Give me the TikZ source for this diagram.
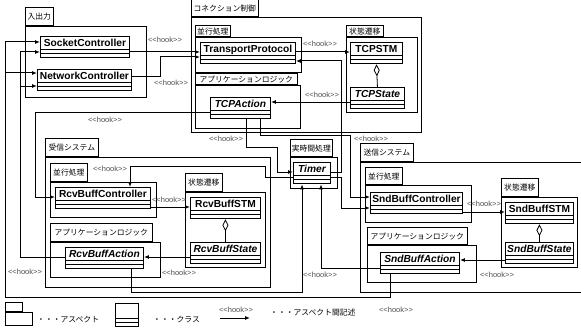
\documentclass[tikz,border=0pt]{standalone}
\usepackage{fontspec}
\setmainfont{Liberation Sans}
\newfontfamily\jpfont{Noto Sans CJK JP}
\newfontfamily\hookfont{Liberation Sans}[Ligatures=TeXOff]
\usetikzlibrary{arrows.meta}

\newcommand{\clsfont}{\fontsize{10.2}{11}\selectfont\bfseries}
\newcommand{\jpsize}{\jpfont\fontsize{7.8}{8}\selectfont}

% aspect: name, corner, width, height, tab width, tab height, label
\newcommand{\aspect}[7]{%
  \node[aspbody, minimum width=#3, minimum height=#4] (#1) at #2 {};
  \node[asptab, minimum width=#5, minimum height=#6] (#1tab) at (#1.north west) {#7};
}

\begin{document}
\begin{tikzpicture}[x=1pt, y=-1pt,
    cls/.style={draw, line width=0.9pt, anchor=north west, inner xsep=0pt, inner ysep=2.5pt,
      text height=7.4pt, text depth=9pt, font=\clsfont,
      path picture={
        \draw[line width=0.8pt] ([yshift=8pt]path picture bounding box.south west) -- ([yshift=8pt]path picture bounding box.south east);
        \draw[line width=0.8pt] ([yshift=4pt]path picture bounding box.south west) -- ([yshift=4pt]path picture bounding box.south east);
      }},
    abscls/.style={cls, font=\clsfont\itshape},
    aspbody/.style={draw, line width=0.6pt, anchor=north west, inner sep=0pt},
    asptab/.style={draw, line width=0.6pt, anchor=south west, inner xsep=1pt, inner ysep=0pt, font=\jpsize},
    hook/.style={line width=1pt, -{Latex[length=5pt,width=4pt]}},
    hooklbl/.style={font=\hookfont\fontsize{7.5}{8}\selectfont, text=black!70, inner sep=0pt},
    agg/.style={line width=0.8pt, {Diamond[open,length=12pt,width=6pt]}-},
  ]
  \useasboundingbox (0,0) rectangle (581,329);

  % aspects
  \aspect{io}{(25,26)}{121}{71}{28}{18}{入出力}
  \aspect{conn}{(191,17)}{230}{115}{67}{17}{コネクション制御}
  \aspect{tcppar}{(195,37)}{106}{35}{35}{11}{並行処理}
  \aspect{tcpsm}{(346,37)}{71}{75}{37}{11}{状態遷移}
  \aspect{tcpapp}{(195,85)}{105}{43}{102}{11}{アプリケーションロジック}
  \aspect{rt}{(290,157)}{47}{31}{42}{17}{実時間処理}
  \aspect{rcv}{(45,157)}{225}{130}{53}{18}{受信システム}
  \aspect{rcvpar}{(50,182)}{106}{35}{37}{18}{並行処理}
  \aspect{rcvsm}{(185,192)}{80}{75}{37}{18}{状態遷移}
  \aspect{rcvapp}{(50,242)}{110}{35}{102}{18}{アプリケーションロジック}
  \aspect{snd}{(360,162)}{225}{130}{53}{18}{送信システム}
  \aspect{sndpar}{(365,185)}{106}{37}{37}{17}{並行処理}
  \aspect{sndsm}{(501,197)}{76}{70}{37}{18}{状態遷移}
  \aspect{sndapp}{(367,245)}{109}{37}{100}{17}{アプリケーションロジック}

  % classes
  \node[cls, minimum width=89] (sock) at (40,36) {SocketController};
  \node[cls, minimum width=94] (net) at (37,69) {NetworkController};
  \node[cls, minimum width=95] (tp) at (200,42) {TransportProtocol};
  \node[cls, minimum width=52] (tcpstm) at (350,42) {TCPSTM};
  \node[abscls, minimum width=54] (tcpst) at (350,87) {TCPState};
  \node[abscls, minimum width=60] (tcpact) at (210,97) {TCPAction};
  \node[abscls, minimum width=37] (timer) at (293,162) {Timer};
  \node[cls, minimum width=95] (rcvctl) at (55,187) {RcvBuffController};
  \node[cls, minimum width=70] (rcvstm) at (190,197) {RcvBuffSTM};
  \node[abscls, minimum width=70] (rcvst) at (190,242) {RcvBuffState};
  \node[abscls, minimum width=78] (rcvact) at (65,247) {RcvBuffAction};
  \node[cls, minimum width=92] (sndctl) at (370,192) {SndBuffController};
  \node[cls, minimum width=68] (sndstm) at (505,202) {SndBuffSTM};
  \node[abscls, minimum width=68] (sndst) at (505,242) {SndBuffState};
  \node[abscls, minimum width=79] (sndact) at (380,252) {SndBuffAction};

  % bus points
  \coordinate (rcvbus) at (20,86);
  \coordinate (sndbus) at (5,73);

  % hooks
  \draw[hook] (sock.east |- 0,52) -- (tp.west |- 0,52);
  \draw[hook] (net.east |- 0,77) -- (160,77) -- (160,57) -- (tp.west |- 0,57);
  \draw[hook] (tp.east |- 0,52) -- (tcpstm.west |- 0,52);
  \draw[hook] (timer.east |- 0,172) -- (341,172) -- (341,61) -- (tp.east |- 0,61);
  \draw[hook] (tcpst.west |- 0,102) -- (tcpact.east |- 0,102);
  \draw[hook] (tcpact.west |- 0,112) -- (35,112) -- (35,197) -- (rcvctl.west |- 0,197);
  \draw[hook] (tcpact.south -| 246,0) -- (246,147) -- (277,147) -- (277,172) -- (timer.west |- 0,172);
  \draw[hook] (tcpact.south -| 260,0) -- (260,135) -- (350,135) -- (350,197) -- (sndctl.west |- 0,197);
  \draw[hook] (timer.east |- 0,177) -- (341,177) -- (341,208) -- (sndctl.west |- 0,208);
  \draw[hook] (timer.west |- 0,177) -- (265,177) -- (265,166) -- (130,166) -- (rcvctl.north -| 130,0);
  \draw[hook] (rcvctl.east |- 0,207) -- (rcvstm.west |- 0,207);
  \draw[hook] (rcvst.west |- 0,257) -- (rcvact.east |- 0,257);
  \draw[hook] (rcvact.west |- 0,257) -- (20,257) -- (20,52) -- (sock.west |- 0,52);
  \draw[hook] (rcvbus) -- (net.west |- rcvbus);
  \draw[hook] (rcvact.south -| 131,0) -- (131,292) -- (302,292) -- (timer.south -| 302,0);
  \draw[hook] (sndctl.east |- 0,212) -- (sndstm.west |- 0,212);
  \draw[hook] (sndst.west |- 0,260) -- (sndact.east |- 0,260);
  \draw[hook] (sndact.west |- 0,268) -- (321,268) -- (timer.south -| 321,0);
  \draw[hook] (sndact.south -| 390,0) -- (390,297) -- (5,297) -- (5,42) -- (sock.west |- 0,42);
  \draw[hook] (sndbus) -- (net.west |- sndbus);

  % aggregation
  \draw[agg] (tcpstm.south) -- (tcpst.north);
  \draw[agg] (rcvstm.south) -- (rcvst.north);
  \draw[agg] (sndstm.south) -- (sndst.north);

  % hook labels
  \node[hooklbl] (h1) at (165,40) {<<hook>>};
  \node[hooklbl] (h2) at (171,83) {<<hook>>};
  \node[hooklbl] (h3) at (105,120) {<<hook>>};
  \node[hooklbl] (h4) at (320,44) {<<hook>>};
  \node[hooklbl] (h5) at (322,95) {<<hook>>};
  \node[hooklbl] (h6) at (226,139) {<<hook>>};
  \node[hooklbl] (h7) at (371,139) {<<hook>>};
  \node[hooklbl] (h8) at (110,169) {<<hook>>};
  \node[hooklbl] (h9) at (169,200) {<<hook>>};
  \node[hooklbl] (h10) at (179,273) {<<hook>>};
  \node[hooklbl] (h11) at (25,272) {<<hook>>};
  \node[hooklbl] (h12) at (320,275) {<<hook>>};
  \node[hooklbl] (h13) at (396,310) {<<hook>>};
  \node[hooklbl] (h14) at (484,204) {<<hook>>};
  \node[hooklbl] (h15) at (497,275) {<<hook>>};

  % legend
  \node[aspbody, minimum width=27, minimum height=13] (lgasp) at (5,312) {};
  \node[asptab, minimum width=17, minimum height=9] (lgasptab) at (lgasp.north west) {};
  \node[anchor=west, inner sep=0pt, font=\jpsize] (lgasptxt) at (37,320) {・・・アスペクト};
  \node[cls, minimum width=23, text height=9pt] (lgcls) at (115,303) {};
  \node[anchor=west, inner sep=0pt, font=\jpsize] (lgclstxt) at (153,320) {・・・クラス};
  \coordinate (lga) at (220,318);
  \coordinate (lgb) at (250,318);
  \draw[hook] (lga) -- (lgb);
  \node[hooklbl] (lghook) at (236,310) {<<hook>>};
  \node[anchor=west, inner sep=0pt, font=\jpsize] (lghooktxt) at (270,313) {・・・アスペクト間記述};
\end{tikzpicture}
\end{document}
